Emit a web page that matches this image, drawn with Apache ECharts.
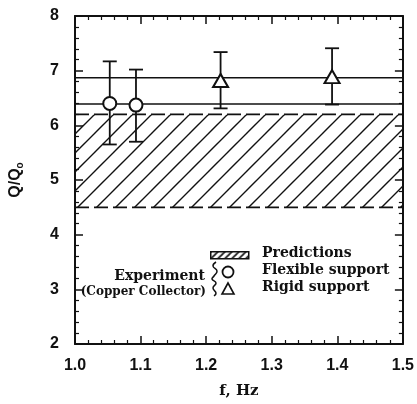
<!DOCTYPE html>
<html>
<head>
<meta charset="utf-8">
<script src="https://cdn.jsdelivr.net/npm/echarts@6/dist/echarts.min.js"></script>
<style>
html,body{margin:0;padding:0;background:#fff}
#chart{width:417px;height:404px}
</style>
</head>
<body>
<div id="chart"></div>
<script>
// Axis ranges / tick labels
const xTickLabels = ['1.0', '1.1', '1.2', '1.3', '1.4', '1.5'];
const yTickLabels = ['2', '3', '4', '5', '6', '7', '8'];

// Predicted range of Q/Qo (hatched band): [fStart, fEnd, lower, upper]
const predictionBand = [1.0, 1.5, 4.5, 6.2];

// Horizontal reference levels across the full frequency range
const rigidLevel = 6.87;
const flexibleLevel = 6.39;

// Experiment, flexible support
const flexibleF = [1.053, 1.093];
const flexibleQ = [6.40, 6.37];
const flexibleLow = [5.65, 5.70];
const flexibleHigh = [7.17, 7.02];

// Experiment, rigid support
const rigidF = [1.222, 1.392];
const rigidQ = [6.82, 6.89];
const rigidLow = [6.31, 6.38];
const rigidHigh = [7.34, 7.41];

const INK = '#111';

function makeHatch(step, width) {
  const c = document.createElement('canvas');
  c.width = step; c.height = step;
  const g = c.getContext('2d');
  g.strokeStyle = INK;
  g.lineWidth = width;
  g.beginPath();
  g.moveTo(-2, step + 2); g.lineTo(step + 2, -2);
  g.moveTo(-2, 2); g.lineTo(2, -2);
  g.moveTo(step - 2, step + 2); g.lineTo(step + 2, step - 2);
  g.stroke();
  return c;
}
const hatchBig = makeHatch(19, 1.4);
const hatchSmall = makeHatch(7, 1.6);

const xMin = parseFloat(xTickLabels[0]), xMax = parseFloat(xTickLabels[xTickLabels.length - 1]);
const yMin = parseFloat(yTickLabels[0]), yMax = parseFloat(yTickLabels[yTickLabels.length - 1]);

const errData = (f, lo, hi) => f.map((v, i) => [v, lo[i], hi[i]]);
const ptData = (f, q) => f.map((v, i) => [v, q[i]]);

function renderErr(params, api) {
  const top = api.coord([api.value(0), api.value(2)]);
  const bot = api.coord([api.value(0), api.value(1)]);
  const w = 7;
  const st = { stroke: INK, lineWidth: 1.8 };
  return {
    type: 'group',
    children: [
      { type: 'line', shape: { x1: top[0], y1: top[1], x2: bot[0], y2: bot[1] }, style: st },
      { type: 'line', shape: { x1: top[0] - w, y1: top[1], x2: top[0] + w, y2: top[1] }, style: st },
      { type: 'line', shape: { x1: bot[0] - w, y1: bot[1], x2: bot[0] + w, y2: bot[1] }, style: st }
    ]
  };
}

function renderBand(params, api) {
  const a = api.coord([api.value(0), api.value(3)]);
  const b = api.coord([api.value(1), api.value(2)]);
  const dash = { stroke: INK, lineWidth: 1.6, lineDash: [14, 5] };
  return {
    type: 'group',
    children: [
      { type: 'rect', shape: { x: a[0], y: a[1], width: b[0] - a[0], height: b[1] - a[1] },
        style: { fill: { image: hatchBig, repeat: 'repeat' }, stroke: null } },
      { type: 'line', shape: { x1: a[0], y1: a[1], x2: b[0], y2: a[1] }, style: dash },
      { type: 'line', shape: { x1: a[0], y1: b[1], x2: b[0], y2: b[1] }, style: dash }
    ]
  };
}

const axisCommon = {
  axisLine: { show: true, onZero: false, lineStyle: { color: INK, width: 2 } },
  axisTick: { show: true, inside: true, length: 8, lineStyle: { color: INK, width: 1.5 } },
  minorTick: { show: true, splitNumber: 5, length: 4, lineStyle: { color: INK, width: 1.2 } },
  splitLine: { show: false },
  minorSplitLine: { show: false }
};

const serifBold = '"DejaVu Serif", serif';
const sansBold = '"Liberation Sans", Arial, sans-serif';

const chart = echarts.init(document.getElementById('chart'), null, { renderer: 'canvas' });
chart.setOption({
  backgroundColor: '#fff',
  animation: false,
  grid: { left: 74, top: 16, right: 6, bottom: 55, containLabel: false },
  xAxis: [
    Object.assign({
      type: 'value', min: xMin, max: xMax, interval: 0.1, position: 'bottom',
      name: 'f, Hz', nameLocation: 'middle', nameGap: 40,
      nameTextStyle: { fontFamily: serifBold, fontWeight: 'bold', fontSize: 15, color: INK },
      axisLabel: { margin: 14, fontFamily: sansBold, fontWeight: 'bold', fontSize: 16, color: INK,
        formatter: v => v.toFixed(1) }
    }, axisCommon),
    Object.assign({
      type: 'value', min: xMin, max: xMax, interval: 0.1, position: 'top',
      axisLabel: { show: false }
    }, axisCommon)
  ],
  yAxis: [
    Object.assign({
      type: 'value', min: yMin, max: yMax, interval: 1, position: 'left',
      name: '{q|Q/Q}{s|o}', nameLocation: 'middle', nameGap: 50, nameRotate: 90,
      nameTextStyle: { color: INK, rich: {
        q: { fontFamily: sansBold, fontWeight: 'bold', fontSize: 16, color: INK },
        s: { fontFamily: sansBold, fontWeight: 'bold', fontSize: 10, color: INK, padding: [8, 0, 0, 0] }
      } },
      axisLabel: { margin: 16, fontFamily: sansBold, fontWeight: 'bold', fontSize: 16, color: INK }
    }, axisCommon),
    Object.assign({
      type: 'value', min: yMin, max: yMax, interval: 1, position: 'right',
      axisLabel: { show: false }
    }, axisCommon)
  ],
  series: [
    {
      type: 'custom', name: 'Predictions', renderItem: renderBand,
      encode: { x: [0, 1], y: [2, 3] }, data: [predictionBand], z: 1, silent: true
    },
    {
      type: 'line', data: [[xMin, rigidLevel], [xMax, rigidLevel]], symbol: 'none',
      lineStyle: { color: INK, width: 1.6 }, z: 2, silent: true
    },
    {
      type: 'line', data: [[xMin, flexibleLevel], [xMax, flexibleLevel]], symbol: 'none',
      lineStyle: { color: INK, width: 1.6 }, z: 2, silent: true
    },
    {
      type: 'custom', renderItem: renderErr, encode: { x: 0, y: [1, 2] },
      data: errData(flexibleF, flexibleLow, flexibleHigh), z: 3, silent: true
    },
    {
      type: 'custom', renderItem: renderErr, encode: { x: 0, y: [1, 2] },
      data: errData(rigidF, rigidLow, rigidHigh), z: 3, silent: true
    },
    {
      type: 'scatter', name: 'Flexible support', data: ptData(flexibleF, flexibleQ),
      symbol: 'circle', symbolSize: 13, z: 5,
      itemStyle: { color: '#fff', borderColor: INK, borderWidth: 2, opacity: 1 }
    },
    {
      type: 'scatter', name: 'Rigid support', data: ptData(rigidF, rigidQ),
      symbol: 'triangle', symbolSize: [15, 13], z: 5,
      itemStyle: { color: '#fff', borderColor: INK, borderWidth: 2, opacity: 1 }
    }
  ],
  graphic: [
    // legend: hatched swatch
    { type: 'rect', left: 210, top: 251, shape: { width: 38, height: 7 },
      style: { fill: { image: hatchSmall, repeat: 'repeat' }, stroke: INK, lineWidth: 1.5 } },
    { type: 'text', left: 262, top: 246,
      style: { text: 'Predictions', font: 'bold 14px ' + serifBold, fill: INK } },
    { type: 'circle', shape: { cx: 228, cy: 272, r: 5.5 },
      style: { fill: '#fff', stroke: INK, lineWidth: 1.8 } },
    { type: 'text', left: 262, top: 263,
      style: { text: 'Flexible support', font: 'bold 14px ' + serifBold, fill: INK } },
    { type: 'polygon', shape: { points: [[228, 283], [222, 294], [234, 294]] },
      style: { fill: '#fff', stroke: INK, lineWidth: 1.6 } },
    { type: 'text', left: 262, top: 280,
      style: { text: 'Rigid support', font: 'bold 14px ' + serifBold, fill: INK } },
    // wavy brace joining the two experiment entries
    { type: 'polyline', shape: { smooth: 0.5, points: [[216, 262], [213, 266], [217, 271], [214, 276], [212, 279], [216, 283], [213, 288], [216, 293], [214, 296]] },
      style: { stroke: INK, lineWidth: 1.5, fill: null } },
    { type: 'text', right: 417 - 205, top: 269,
      style: { text: 'Experiment', font: 'bold 14px ' + serifBold, fill: INK, textAlign: 'right' } },
    { type: 'text', right: 417 - 206, top: 286,
      style: { text: '(Copper Collector)', font: 'bold 12px ' + serifBold, fill: INK, textAlign: 'right' } }
  ]
});
</script>
</body>
</html>
